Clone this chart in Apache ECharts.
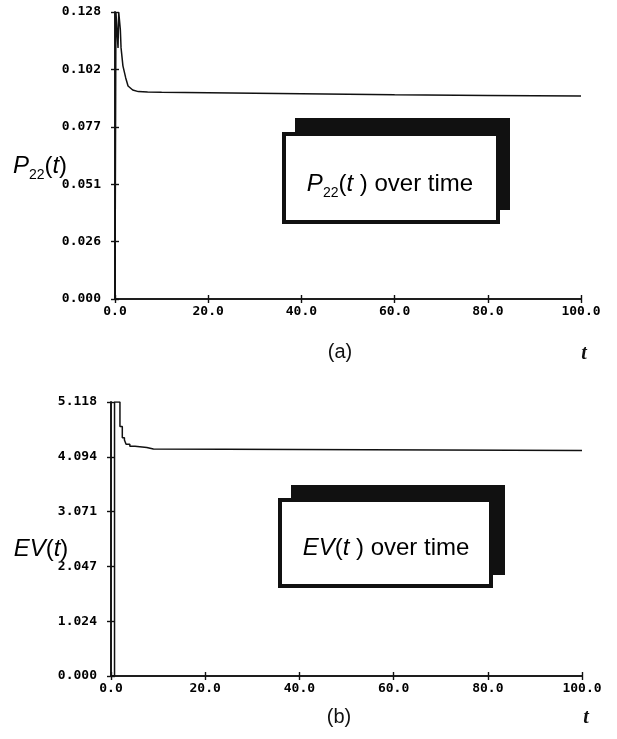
<!DOCTYPE html>
<html>
<head>
<meta charset="utf-8">
<script src="https://cdn.jsdelivr.net/npm/echarts@6/dist/echarts.min.js"></script>
<style>
html,body{margin:0;padding:0;background:#fff;}
#chart{width:617px;height:739px;}
</style>
</head>
<body>
<div id="chart"></div>
<script>
// ---- data ----
var p22T = [0, 0.2, 0.55, 0.65, 0.8, 1.05, 1.15, 1.3, 1.7, 2.3, 2.8, 3.8, 5, 7, 10, 20, 40, 60, 80, 100];
var p22V = [0, 0.128, 0.128, 0.112, 0.128, 0.128, 0.120, 0.112, 0.104, 0.0986, 0.0950, 0.0932, 0.0925, 0.0923, 0.0922, 0.0920, 0.0915, 0.0911, 0.0908, 0.0905];

var evT = [0, 0.75, 1.9, 2.4, 2.85, 3.2, 4.0, 5.1, 7.6, 9.0, 100];
var evV = [0, 5.118, 4.66, 4.45, 4.41, 4.33, 4.29, 4.27, 4.24, 4.21, 4.21];

var xTicks = [0, 20, 40, 60, 80, 100];
var p22Max = 0.128, p22Step = 0.0256;
var evMax = 5.118, evStep = 1.0236;

function pairs(a, b) { return a.map(function (v, i) { return [v, b[i]]; }); }

var chart = echarts.init(document.getElementById('chart'), null, {renderer: 'canvas'});

var lblFont = {fontFamily: 'DejaVu Sans Mono', fontWeight: 'bold', fontSize: 13, color: '#000'};

function xAxes(gi) {
  var base = {
    gridIndex: gi, type: 'value', min: xTicks[0], max: xTicks[xTicks.length - 1], interval: 20,
    splitLine: {show: false}
  };
  return [
    Object.assign({}, base, {
      axisLine: {show: true, lineStyle: {color: '#111', width: 1.6}},
      axisTick: {show: true, length: 4, lineStyle: {color: '#111', width: 1.4}},
      axisLabel: Object.assign({margin: 6, formatter: function (v) { return v.toFixed(1); }}, lblFont)
    }),
    Object.assign({}, base, {
      position: 'bottom',
      axisLine: {show: true, onZero: false, lineStyle: {color: '#111', width: 1.6}},
      axisTick: {show: true, inside: true, length: 4, lineStyle: {color: '#111', width: 1.4}},
      axisLabel: {show: false}
    })
  ];
}
function yAxes(gi, max, step) {
  var base = {gridIndex: gi, type: 'value', min: 0, max: max, interval: step, splitLine: {show: false}};
  return [
    Object.assign({}, base, {
      axisLine: {show: true, lineStyle: {color: '#111', width: 1.6}},
      axisTick: {show: true, length: 4, lineStyle: {color: '#111', width: 1.4}},
      axisLabel: Object.assign({margin: 14, formatter: function (v) { return v.toFixed(3); }}, lblFont)
    }),
    Object.assign({}, base, {
      position: 'left',
      axisLine: {show: true, onZero: false, lineStyle: {color: '#111', width: 1.6}},
      axisTick: {show: true, inside: true, length: 4, lineStyle: {color: '#111', width: 1.4}},
      axisLabel: {show: false}
    })
  ];
}

var mainRich = {
  i: {fontFamily: 'Liberation Sans', fontStyle: 'italic', fontSize: 24, lineHeight: 32, verticalAlign: 'middle', color: '#111'},
  n: {fontFamily: 'Liberation Sans', fontSize: 24, lineHeight: 32, verticalAlign: 'middle', color: '#111'},
  s: {fontFamily: 'Liberation Sans', fontSize: 14, lineHeight: 32, verticalAlign: 'bottom', color: '#111'}
};

function labelBox(shadow, box, cx, cy, txt) {
  return [
    {type: 'rect', shape: shadow, style: {fill: '#111'}, z: 10},
    {type: 'rect', shape: box, style: {fill: '#fff', stroke: '#111', lineWidth: 4}, z: 11},
    {type: 'text', x: cx, y: cy, z: 12, style: {text: txt, rich: mainRich, align: 'center', verticalAlign: 'middle'}}
  ];
}

var option = {
  backgroundColor: '#fff',
  animation: false,
  grid: [
    {left: 115, top: 12, right: 36, height: 287},
    {left: 111, top: 402, right: 35, height: 274}
  ],
  xAxis: xAxes(0).concat(xAxes(1)),
  yAxis: yAxes(0, p22Max, p22Step).concat(yAxes(1, evMax, evStep)),
  series: [
    {
      type: 'line', xAxisIndex: 0, yAxisIndex: 0, data: pairs(p22T, p22V),
      showSymbol: false, smooth: false, clip: true,
      lineStyle: {color: '#111', width: 1.5}
    },
    {
      type: 'line', xAxisIndex: 2, yAxisIndex: 2, data: pairs(evT, evV),
      showSymbol: false, step: 'end', clip: true,
      lineStyle: {color: '#111', width: 1.5}
    }
  ],
  graphic: [].concat(
    labelBox({x: 295, y: 118, width: 215, height: 92}, {x: 284, y: 134, width: 214, height: 88}, 390, 184,
      '{i|P}{s|22}{n|(}{i|t}{n| ) over time}'),
    labelBox({x: 291, y: 485, width: 214, height: 90}, {x: 280, y: 500, width: 211, height: 86}, 386, 548,
      '{i|EV}{n|(}{i|t}{n| ) over time}'),
    [
      {type: 'text', x: 40, y: 166, style: {text: '{i|P}{s|22}{n|(}{i|t}{n|)}', rich: mainRich, align: 'center', verticalAlign: 'middle'}},
      {type: 'text', x: 41, y: 549, style: {text: '{i|EV}{n|(}{i|t}{n|)}', rich: mainRich, align: 'center', verticalAlign: 'middle'}},
      {type: 'text', x: 340, y: 352, style: {text: '(a)', font: '20px "Liberation Sans"', fill: '#111', align: 'center', verticalAlign: 'middle'}},
      {type: 'text', x: 339, y: 717, style: {text: '(b)', font: '20px "Liberation Sans"', fill: '#111', align: 'center', verticalAlign: 'middle'}},
      {type: 'text', x: 584, y: 354, style: {text: 't', font: 'italic bold 20px "Liberation Serif"', fill: '#111', align: 'center', verticalAlign: 'middle'}},
      {type: 'text', x: 586, y: 718, style: {text: 't', font: 'italic bold 20px "Liberation Serif"', fill: '#111', align: 'center', verticalAlign: 'middle'}}
    ]
  )
};
chart.setOption(option);
</script>
</body>
</html>
